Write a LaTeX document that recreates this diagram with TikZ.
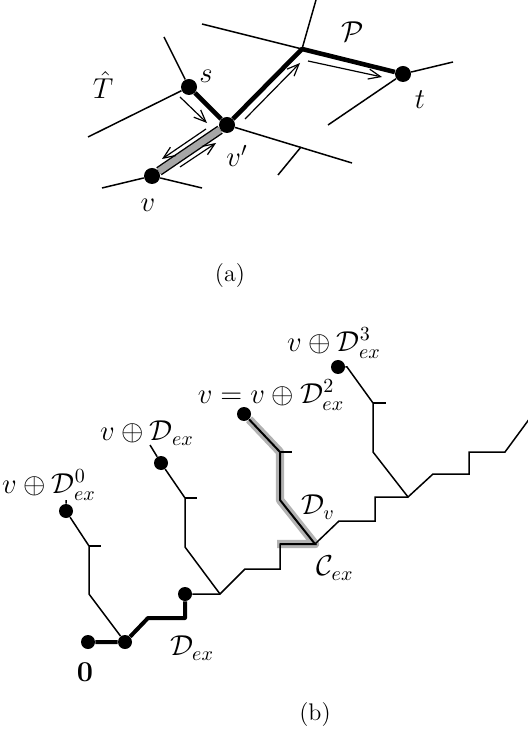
\documentclass[tikz,border=0pt]{standalone}
\usepackage{amsmath}
\usepackage{amssymb}
\usepackage{tikz}
\usetikzlibrary{arrows.meta, calc}

\begin{document}
\begin{tikzpicture}[
    x=0.5pt, y=-0.5pt,
    dot/.style={circle, fill=black, inner sep=0pt, minimum size=8pt},
    sdot/.style={dot, minimum size=7pt},
    edge/.style={line width=0.75pt},
    boldedge/.style={line width=2.3pt, line join=round},
    band/.style={line width=0.7pt, double=gray!70, double distance=3.4pt},
    glow/.style={line width=4.2pt, gray!60, line join=round},
    move/.style={-{Straight Barb[length=6pt, width=5pt]}, line width=0.6pt},
    lbl/.style={font=\fontsize{14}{16}\selectfont},
    captext/.style={font=\fontsize{12}{14}\selectfont}
]
\useasboundingbox (0,0) rectangle (528,747);

\coordinate (q) at (302,49);
\node[dot] (t) at (403,74) {};
\node[dot] (s) at (189,87) {};
\node[dot] (vp) at (227,125) {};
\node[dot] (v) at (152,176) {};
\coordinate (qn) at (316,0);
\coordinate (qw) at (202,24);
\coordinate (te) at (453,62);
\coordinate (tsw) at (328,125);
\coordinate (sn) at (164,37);
\coordinate (sw) at (88,137);
\coordinate (vpe) at (352,163);
\coordinate (x1) at (278,175);
\coordinate (x2) at (301,147);
\coordinate (vw) at (102,188);
\coordinate (ve) at (202,188);

\draw[edge] (qw) -- (q) -- (qn);
\draw[edge] (te) -- (t) -- (tsw);
\draw[edge] (sn) -- (s) -- (sw);
\draw[edge] (vp) -- (vpe);
\draw[edge] (x1) -- (x2);
\draw[edge] (vw) -- (v) -- (ve);
\draw[boldedge] (s) -- (vp) -- (q) -- (t);
\draw[band] (v) -- (vp);

\coordinate (m1a) at (180,97);
\coordinate (m1b) at (207,123);
\coordinate (m2a) at (245,119);
\coordinate (m2b) at (300,63);
\coordinate (m3a) at (308,61);
\coordinate (m3b) at (382,77);
\coordinate (m4a) at (206,129);
\coordinate (m4b) at (162,159);
\coordinate (m5a) at (180,167);
\coordinate (m5b) at (216,143);
\draw[move] (m1a) -- (m1b);
\draw[move] (m2a) -- (m2b);
\draw[move] (m3a) -- (m3b);
\draw[move] (m4a) -- (m4b);
\draw[move] (m5a) -- (m5b);

\node[lbl] (lT) at (103,85) {$\hat{T}$};
\node[lbl] (ls) at (206,76) {$s$};
\node[lbl] (lt) at (420,100) {$t$};
\node[lbl] (lP) at (353,32) {$\mathcal{P}$};
\node[lbl] (lvp) at (237,156) {$v'$};
\node[lbl] (lv) at (148,205) {$v$};
\node[captext] (capa) at (230,276) {(a)};

\node[sdot] (d3) at (338,367) {};
\node[sdot] (d2) at (244,414) {};
\node[sdot] (d1) at (161,463) {};
\node[sdot] (d0) at (66,511) {};
\node[sdot] (o) at (88,642) {};
\node[sdot] (j0) at (125,642) {};
\node[sdot] (j1) at (185,594) {};

\coordinate (b3s) at (347,367);
\coordinate (b3a) at (373,403);
\coordinate (b3t) at (386,403);
\coordinate (b3b) at (373,452);
\coordinate (J3) at (408,497);
\coordinate (r1) at (433,474);
\coordinate (r2) at (469,474);
\coordinate (r3) at (469,452);
\coordinate (r4) at (505,452);
\coordinate (r5) at (530,418);
\coordinate (k1) at (375,497);
\coordinate (k2) at (375,521);
\coordinate (k3) at (339,521);
\coordinate (C) at (315,544);
\coordinate (k4) at (280,544);
\coordinate (k5) at (280,569);
\coordinate (k6) at (245,569);
\coordinate (J2) at (220,594);
\coordinate (b2a) at (280,452);
\coordinate (b2t) at (292,452);
\coordinate (b2b) at (280,500);
\coordinate (g1) at (277,544);
\coordinate (b1u) at (150,445);
\coordinate (b1a) at (185,498);
\coordinate (b1t) at (197,498);
\coordinate (b1b) at (185,547);
\coordinate (b0u) at (66,500);
\coordinate (b0a) at (89,546);
\coordinate (b0t) at (101,546);
\coordinate (b0b) at (89,594);
\coordinate (e1) at (148,618);
\coordinate (e2) at (185,618);

\draw[glow] (d2) -- (b2a) -- (b2b) -- (C) -- (g1);
\draw[edge] (d3) -- (b3s) -- (b3a) -- (b3b) -- (J3) -- (r1) -- (r2) -- (r3) -- (r4) -- (r5);
\draw[edge] (b3a) -- (b3t);
\draw[edge] (J3) -- (k1) -- (k2) -- (k3) -- (C) -- (k4) -- (k5) -- (k6) -- (J2) -- (j1);
\draw[edge, line width=1pt] (d2) -- (b2a) -- (b2b) -- (C) -- (k4);
\draw[edge] (b2a) -- (b2t);
\draw[edge] (b1u) -- (d1) -- (b1a) -- (b1b) -- (J2);
\draw[edge] (b1a) -- (b1t);
\draw[edge] (b0u) -- (d0) -- (b0a) -- (b0b) -- (j0);
\draw[edge] (b0a) -- (b0t);
\draw[boldedge, line width=2pt] (o) -- (j0) -- (e1) -- (e2) -- (j1);

\node[lbl] (l3) at (334,343) {$v \oplus \mathcal{D}_{ex}^3$};
\node[lbl] (l2) at (271,395) {$v = v \oplus \mathcal{D}_{ex}^2$};
\node[lbl] (l1) at (147,433) {$v \oplus \mathcal{D}_{ex}$};
\node[lbl] (l0) at (49,485) {$v \oplus \mathcal{D}_{ex}^0$};
\node[lbl] (lDv) at (318,507) {$\mathcal{D}_v$};
\node[lbl] (lC) at (335,568) {$\mathcal{C}_{ex}$};
\node[lbl] (lo) at (85,672) {$\mathbf{0}$};
\node[lbl] (lD) at (192,648) {$\mathcal{D}_{ex}$};
\node[captext] (capb) at (315,715) {(b)};
\end{tikzpicture}
\end{document}
